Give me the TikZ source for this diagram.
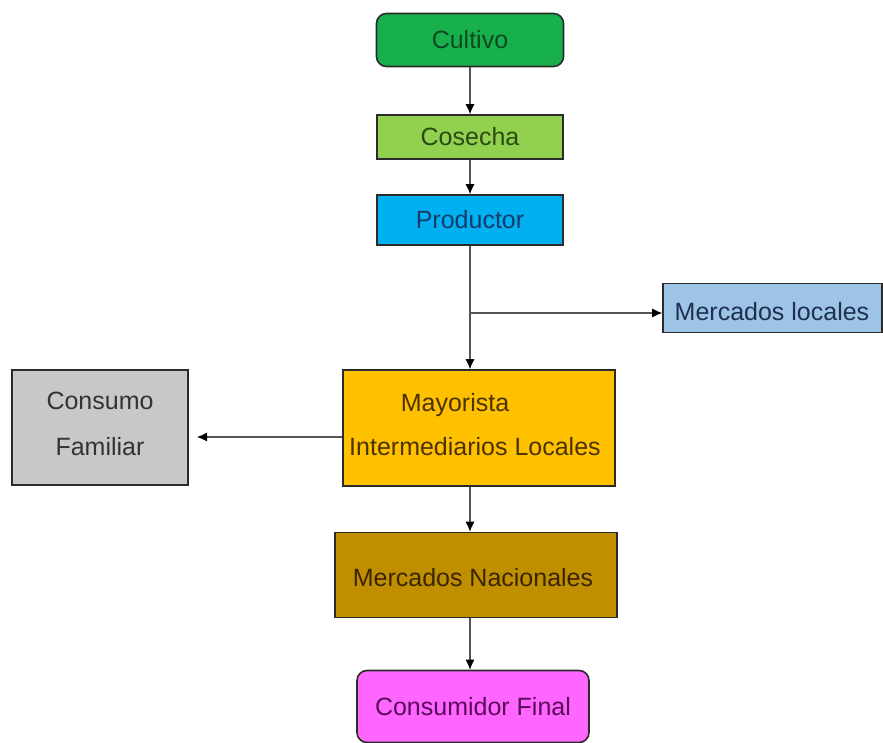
\documentclass[tikz,border=0pt]{standalone}
\usepackage{fontspec}
\setmainfont{Liberation Sans}
\usetikzlibrary{arrows.meta}

\definecolor{cultivoFill}{HTML}{18B04C}
\definecolor{cultivoText}{HTML}{0B4A1F}
\definecolor{cosechaFill}{HTML}{92D050}
\definecolor{cosechaText}{HTML}{2A4A10}
\definecolor{productorFill}{HTML}{00B0F0}
\definecolor{productorText}{HTML}{173A6A}
\definecolor{localesFill}{HTML}{9DC3E6}
\definecolor{localesText}{HTML}{1F3050}
\definecolor{consumoFill}{HTML}{C8C8C8}
\definecolor{consumoText}{HTML}{333333}
\definecolor{mayoristaFill}{HTML}{FFC000}
\definecolor{mayoristaText}{HTML}{4A3300}
\definecolor{nacionalesFill}{HTML}{BF8F00}
\definecolor{nacionalesText}{HTML}{3A2500}
\definecolor{finalFill}{HTML}{FF66FF}
\definecolor{finalText}{HTML}{5A0A5A}
\definecolor{edge}{HTML}{2B2B2B}
\definecolor{wire}{HTML}{555555}

\tikzset{
  box/.style={draw=edge, line width=1.6pt, inner sep=0pt, align=center,
    font=\fontsize{25}{46}\selectfont},
  roundbox/.style={box, rounded corners=10pt},
  txt/.style={inner sep=0pt, align=center, font=\fontsize{25}{46}\selectfont},
  link/.style={draw=wire, line width=1.1pt},
  arrow/.style={link, -{Latex[length=10pt,width=9pt,fill=black,color=black]}},
}

\begin{document}
\begin{tikzpicture}[x=1pt, y=-1pt]
  \useasboundingbox (0,0) rectangle (883,743);

  % flow boxes
  \node[roundbox, fill=cultivoFill, text=cultivoText,
        minimum width=187pt, minimum height=53pt] (cultivo) at (470,40) {Cultivo};
  \node[box, fill=cosechaFill, text=cosechaText,
        minimum width=186pt, minimum height=44pt] (cosecha) at (470,137) {Cosecha};
  \node[box, fill=productorFill, text=productorText,
        minimum width=186pt, minimum height=50pt] (productor) at (470,220) {Productor};
  \node[box, fill=localesFill, minimum width=219pt, minimum height=49pt]
        (locales) at (772.5,308) {};
  \node[txt, text=localesText] (localesLbl) at (772,312) {Mercados locales};
  \node[box, fill=mayoristaFill, minimum width=272pt, minimum height=116pt]
        (mayorista) at (479,428) {};
  \node[txt, text=mayoristaText] (mayLbl) at (455,405) {Mayorista};
  \node[txt, text=mayoristaText] (intLbl) at (475,447) {Intermediarios Locales};
  \node[box, fill=consumoFill, minimum width=176pt, minimum height=115pt]
        (consumo) at (100,427.5) {};
  \node[txt, text=consumoText] (consumoLbl) at (100,424) {Consumo\\Familiar};
  \node[box, fill=nacionalesFill, minimum width=282pt, minimum height=85pt]
        (nacionales) at (476,575) {};
  \node[txt, text=nacionalesText] (nacLbl) at (473,578) {Mercados Nacionales};
  \node[roundbox, fill=finalFill, text=finalText,
        minimum width=232pt, minimum height=72pt] (final) at (473,706.5)
        {Consumidor Final};

  % connectors
  \coordinate (split) at (470,313);
  \coordinate (famEnd) at (197,437);
  \draw[arrow] (cultivo.south -| 470,0) -- (cosecha.north -| 470,0);
  \draw[arrow] (cosecha.south -| 470,0) -- (productor.north -| 470,0);
  \draw[arrow] (productor.south -| 470,0) -- (mayorista.north -| 470,0);
  \draw[arrow] (split) -- (split -| locales.west);
  \draw[arrow] (famEnd -| mayorista.west) -- (famEnd);
  \draw[arrow] (mayorista.south -| 470,0) -- (nacionales.north -| 470,0);
  \draw[arrow] (nacionales.south -| 470,0) -- (final.north -| 470,0);
\end{tikzpicture}
\end{document}
